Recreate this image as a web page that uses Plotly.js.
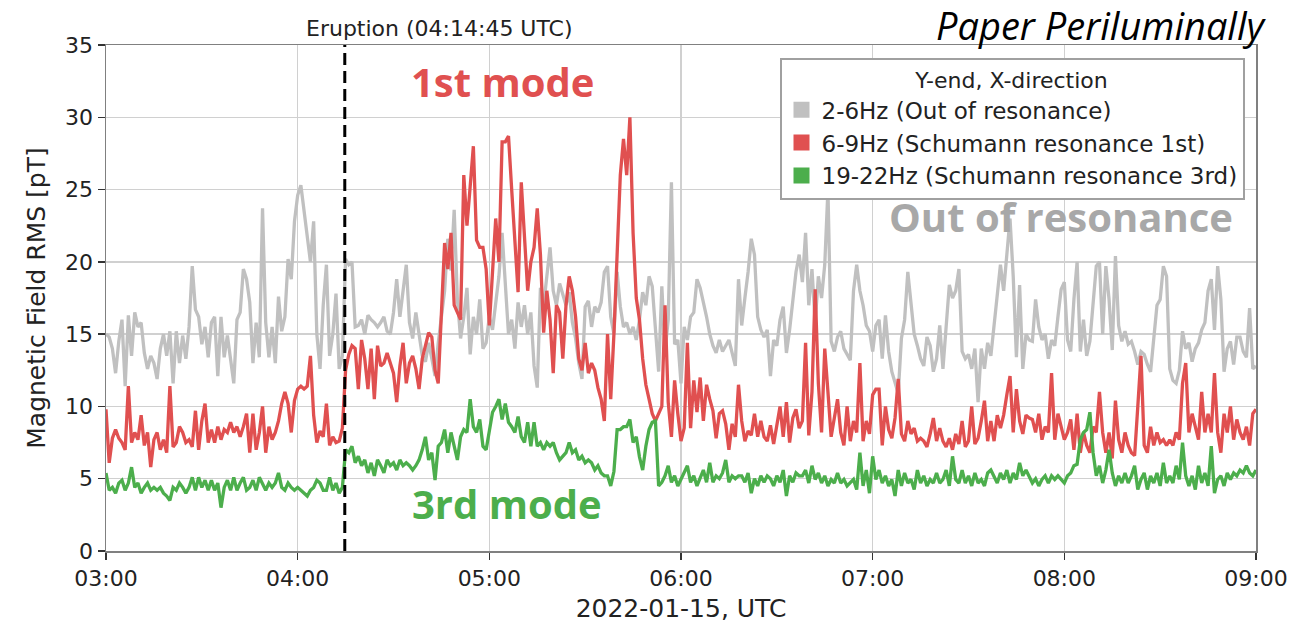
<!DOCTYPE html>
<html>
<head>
<meta charset="utf-8">
<script src="https://cdn.plot.ly/plotly-3.0.1.min.js"></script>
<style>html,body{margin:0;padding:0;background:#fff;}#chart{width:1296px;height:623px;}</style>
</head>
<body>
<div id="chart"></div>
<script>
// 1-minute RMS values, 03:00 to 09:00 UTC, 2022-01-15
const startTime = '2022-01-15 03:00';
const stepMinutes = 1;
const eruptionTime = '2022-01-15 04:14:45';

const band2to6 = [
15.0,14.8,14.0,12.3,14.5,16.0,11.4,16.3,13.5,16.5,
15.5,15.8,13.7,12.6,13.5,13.0,11.9,14.0,15.0,13.5,
15.2,11.6,15.2,13.0,14.9,13.3,15.5,19.7,16.7,16.2,
14.3,15.5,13.4,15.8,16.2,12.1,16.2,13.4,14.9,13.4,
11.6,16.0,16.5,19.5,18.8,17.2,13.0,15.8,13.4,23.7,
15.8,13.4,15.5,13.0,17.6,15.2,16.2,20.2,18.8,22.8,
24.6,25.3,23.5,21.8,20.0,22.8,15.0,12.6,17.0,19.8,
13.5,15.0,17.8,12.6,13.5,20.2,19.8,20.0,15.5,15.6,
16.0,15.0,16.3,16.0,15.8,15.5,15.8,16.2,15.2,15.0,
16.5,18.8,16.2,18.0,19.8,15.8,14.7,16.5,15.0,13.5,
13.1,14.4,13.3,12.1,14.4,16.2,18.0,21.6,19.4,23.6,
17.4,14.7,16.2,18.2,13.6,16.2,15.0,17.4,14.0,14.4,
16.2,15.3,17.4,19.0,22.0,18.0,15.0,16.0,14.0,17.2,
15.5,17.0,15.0,16.5,12.8,11.3,18.2,17.0,19.2,21.0,
18.0,17.0,18.5,17.8,17.0,17.9,15.8,14.7,13.0,11.9,
16.9,17.3,15.5,16.9,16.5,17.2,19.3,19.7,16.2,15.0,
19.3,16.9,15.5,15.8,15.0,15.5,14.6,16.0,17.9,17.0,
19.0,18.3,15.0,12.4,18.3,13.8,16.0,25.5,14.3,14.6,
11.6,15.5,14.6,16.2,16.5,18.8,18.2,17.3,16.2,15.0,
14.2,13.7,14.6,13.8,14.2,14.6,13.7,12.8,18.8,15.6,
17.5,19.3,21.6,20.5,16.2,15.3,14.8,15.3,12.1,14.6,
14.2,16.0,16.9,13.7,15.3,17.6,19.3,20.5,18.6,22.0,
17.0,19.5,15.8,19.0,17.5,19.8,25.0,14.5,13.8,14.8,
15.2,14.0,13.6,13.2,18.0,19.8,18.0,17.0,15.6,15.2,
13.8,15.6,16.0,13.3,16.3,13.8,12.4,11.6,10.9,14.7,
16.0,19.3,17.0,15.0,14.2,13.3,12.8,14.8,14.2,12.4,
13.3,15.6,12.6,15.2,18.4,17.5,18.0,19.5,13.8,13.3,
13.6,12.6,14.0,10.3,14.0,12.6,14.4,13.5,15.6,17.2,
19.8,18.0,20.3,23.0,19.0,13.4,18.4,12.6,15.0,14.6,
14.5,17.4,15.5,14.6,15.0,13.3,14.6,14.2,16.2,18.1,
18.6,14.6,13.8,17.4,20.0,13.8,16.0,13.5,14.5,17.2,
19.7,20.0,15.0,19.7,17.4,13.9,20.4,15.6,14.5,15.2,
14.3,14.5,13.8,12.9,13.8,13.6,12.9,12.4,14.8,17.0,
17.4,19.7,19.0,12.6,11.8,11.6,12.5,15.2,14.0,14.4,
13.1,14.0,14.4,15.3,15.8,18.0,18.8,15.3,19.7,17.4,
12.4,14.0,14.5,12.9,14.8,14.8,13.8,13.4,16.8,12.6,12.8
];

const band6to9 = [
9.8,6.1,7.8,8.4,7.8,7.5,7.0,11.4,7.5,8.2,
7.7,9.4,7.3,8.2,5.8,7.7,8.2,7.0,7.7,6.8,
11.4,7.2,7.5,8.6,8.2,7.5,7.7,7.2,9.7,7.0,
9.0,10.2,7.5,8.4,7.5,8.6,7.7,8.4,8.2,8.9,
8.2,8.6,7.9,8.6,9.5,6.8,9.5,7.0,8.2,10.0,
6.8,8.6,7.7,8.2,9.0,10.2,11.0,10.2,8.2,10.4,
11.2,11.4,11.2,11.4,13.5,9.4,7.5,8.3,7.9,10.2,
7.3,7.9,7.5,7.6,8.5,12.5,13.6,14.2,14.0,11.2,
14.6,13.3,11.2,14.0,10.5,14.2,12.8,13.0,13.7,13.0,
12.3,10.3,12.8,14.4,11.6,13.0,13.5,12.6,11.2,13.3,
14.2,15.1,14.8,12.5,11.6,16.3,21.3,19.5,22.0,17.0,
16.5,16.0,26.0,22.5,25.2,28.0,21.5,21.0,21.0,19.5,
15.6,19.0,23.0,20.0,28.3,28.3,28.7,25.0,21.3,17.9,
25.5,21.5,18.0,20.0,21.0,23.7,20.5,15.1,18.0,16.0,
12.3,17.0,16.5,13.3,17.0,19.0,18.0,16.2,13.3,12.5,
14.4,12.3,13.0,12.5,11.3,10.5,9.0,15.0,10.5,15.0,
20.0,26.0,28.5,26.0,30.0,22.0,17.5,16.0,13.3,11.5,
10.5,9.5,9.0,9.5,10.0,17.0,10.3,7.9,11.8,9.5,
7.6,8.5,14.4,8.5,11.8,9.6,12.0,9.0,11.5,10.5,
9.7,7.8,9.5,9.7,8.8,7.0,8.8,7.9,11.5,9.0,
7.6,8.3,8.0,9.5,7.9,9.0,7.9,7.6,8.7,7.4,
8.8,10.0,7.9,10.3,7.5,9.2,9.8,8.5,9.0,14.4,
8.0,11.0,18.1,11.6,8.2,14.0,11.0,7.9,9.2,10.5,
8.2,7.3,10.0,7.6,9.0,8.2,13.0,7.6,9.0,8.1,
10.8,11.2,11.2,7.3,10.0,8.4,7.8,9.2,11.9,8.1,
7.6,9.0,8.1,8.5,7.6,7.8,7.6,7.2,8.1,9.2,
7.6,8.5,7.6,7.2,7.8,7.0,8.1,7.4,9.0,7.2,
7.6,10.0,7.4,7.8,9.0,10.4,7.6,9.0,7.6,9.4,
8.5,9.4,10.8,12.1,8.2,11.2,9.0,8.1,9.4,9.2,
9.1,8.2,9.5,7.7,8.6,8.2,12.3,7.7,9.5,8.6,
7.7,8.2,9.1,7.0,9.5,6.8,8.2,7.3,6.8,8.6,
8.2,11.0,8.2,6.8,8.2,6.4,10.4,7.7,6.8,8.2,
7.3,6.8,6.6,10.0,13.5,7.3,6.8,8.6,7.3,8.2,
7.5,7.7,7.3,7.7,7.3,8.2,7.7,11.6,13.0,8.2,
9.5,8.6,7.7,11.0,8.2,9.5,8.2,12.3,8.2,6.8,
9.5,8.2,10.0,7.7,9.1,8.2,7.7,8.6,7.3,9.5,9.8
];

const band19to22 = [
5.4,4.2,4.4,4.0,4.7,4.9,4.2,4.7,5.8,4.4,
4.7,4.0,4.4,4.7,4.2,4.4,4.2,4.4,4.0,3.8,
3.5,4.4,4.2,4.7,4.4,4.0,4.4,5.1,4.2,5.1,
4.4,4.9,4.2,4.9,4.2,4.7,3.0,4.4,4.9,4.2,
5.1,4.2,4.7,5.1,4.2,4.4,4.9,4.2,5.1,4.7,
4.2,4.7,4.4,4.7,5.4,4.4,4.2,4.7,4.4,4.2,
4.4,4.2,4.0,3.8,4.2,4.4,4.9,4.7,4.2,4.2,
5.1,4.2,4.7,4.0,4.4,7.0,6.8,7.25,6.1,6.55,
5.9,6.3,5.4,6.1,5.2,6.3,5.9,5.4,6.3,5.9,
6.1,5.6,6.3,5.9,6.1,5.9,5.6,5.9,6.3,7.0,
7.9,6.3,6.8,4.9,7.25,7.5,8.4,6.8,8.2,7.25,
6.3,7.9,8.4,8.2,10.5,8.6,8.2,9.1,7.25,7.0,
8.2,9.6,10.0,10.5,9.1,10.2,8.9,8.6,8.2,9.3,
7.9,7.5,8.9,7.25,8.9,7.25,7.5,7.0,7.5,7.25,
7.5,6.8,6.3,6.55,6.8,7.5,6.8,7.0,6.3,6.55,
6.1,6.3,6.1,5.6,5.9,5.4,5.2,5.2,4.5,5.5,
8.4,8.4,8.6,8.6,9.1,7.5,7.9,6.5,5.6,7.25,
8.4,8.9,9.0,4.5,4.75,5.2,5.9,4.75,5.2,4.5,
5.0,5.4,5.9,4.75,5.2,4.5,5.0,5.6,4.75,6.1,
4.75,5.2,5.0,5.4,6.3,4.75,5.2,5.0,5.2,5.2,
4.75,5.4,4.0,5.0,4.5,5.2,4.75,5.2,5.0,4.5,
5.2,4.75,5.6,3.8,5.2,4.75,5.4,5.2,5.2,5.6,
4.7,5.9,4.95,5.4,4.7,5.2,4.5,4.95,4.7,5.4,
4.7,4.95,4.5,4.7,4.95,4.25,6.8,4.5,5.6,4.0,
6.55,4.95,5.6,4.7,5.2,4.5,4.95,3.8,5.6,4.5,
5.4,4.7,4.95,4.25,5.6,4.7,5.2,4.5,4.95,4.7,
5.4,4.7,4.95,5.6,4.5,6.55,4.95,4.7,5.6,4.7,
5.2,4.5,5.4,4.7,4.95,4.5,5.4,5.6,5.2,4.7,
5.4,4.95,5.6,4.7,5.4,4.95,6.1,5.2,5.6,5.2,
4.7,5.0,4.5,4.95,5.2,4.7,5.2,4.95,5.2,4.95,
4.7,5.2,5.4,5.9,6.0,7.7,8.2,8.4,9.6,6.8,
5.2,5.9,4.7,5.6,7.0,5.4,4.5,5.2,4.7,5.4,
4.7,5.2,5.9,4.25,4.95,5.4,4.25,5.2,4.7,5.4,
4.5,6.1,4.7,5.2,4.7,5.9,4.95,7.5,5.2,4.5,
5.2,4.25,5.9,4.7,5.4,4.5,7.25,4.0,4.95,5.2,
4.5,5.4,4.95,5.4,5.2,5.6,5.4,5.9,5.4,5.2,5.6
];

const seriesNames = ['2-6Hz (Out of resonance)', '6-9Hz (Schumann resonance 1st)', '19-22Hz (Schumann resonance 3rd)'];
const seriesColors = ['#c0c0c0', '#e05050', '#4cae4c'];
const xTickLabels = ['03:00','04:00','05:00','06:00','07:00','08:00','09:00'];
const yTicks = [0,5,10,15,20,25,30,35];

function pad(n){ return (n < 10 ? '0' : '') + n; }
const t0 = new Date(startTime.replace(' ', 'T') + ':00Z').getTime();
const times = band2to6.map((_, i) => {
  const d = new Date(t0 + i * stepMinutes * 60000);
  return d.getUTCFullYear() + '-' + pad(d.getUTCMonth()+1) + '-' + pad(d.getUTCDate()) + ' ' + pad(d.getUTCHours()) + ':' + pad(d.getUTCMinutes());
});
const tickVals = xTickLabels.map(l => '2022-01-15 ' + l);

const allSeries = [band2to6, band6to9, band19to22];
const traces = [];
allSeries.forEach((vals, k) => {
  traces.push({type:'scatter', mode:'lines', x: times, y: vals, name: seriesNames[k],
    line:{color: seriesColors[k], width: 3.3}, showlegend:false, hoverinfo:'skip'});
});
allSeries.forEach((vals, k) => {
  traces.push({type:'scatter', mode:'markers', x:[null], y:[null], name: seriesNames[k],
    marker:{symbol:'square', size:16, color: seriesColors[k]}, showlegend:true});
});

const font = 'DejaVu Sans, sans-serif';
const bold = 'Open Sans, sans-serif';
const layout = {
  width:1296, height:623,
  margin:{l:106, r:40, t:45, b:72},
  paper_bgcolor:'#fff', plot_bgcolor:'#fff',
  font:{family:font, color:'#222'},
  showlegend:true,
  xaxis:{type:'date', range:[tickVals[0], tickVals[tickVals.length-1]],
    tickvals: tickVals, ticktext: xTickLabels,
    tickfont:{size:22, family:font, color:'#222'},
    showgrid:true, gridcolor:'#d0d0d0', gridwidth:1.5,
    showline:true, linecolor:'#808080', linewidth:1.5, mirror:true,
    ticks:'outside', ticklen:7, tickwidth:1.5, tickcolor:'#333',
    zeroline:false,
    title:{text:'2022-01-15, UTC', font:{size:25, family:font, color:'#222'}, standoff:9}},
  yaxis:{range:[0,35], tickvals:yTicks,
    tickfont:{size:22, family:font, color:'#222'},
    showgrid:true, gridcolor:'#d0d0d0', gridwidth:1.5,
    showline:true, linecolor:'#808080', linewidth:1.5, mirror:true,
    ticks:'outside', ticklen:7, tickwidth:1.5, tickcolor:'#333',
    zeroline:false,
    title:{text:'Magnetic Field RMS [pT]', font:{size:25, family:font, color:'#222'}, standoff:12}},
  legend:{x:0.99, xanchor:'right', y:0.975, yanchor:'top',
    bgcolor:'#fff', bordercolor:'#a0a0a0', borderwidth:2,
    font:{size:23, family:font, color:'#222'},
    title:{text:'Y-end, X-direction', side:'top center', font:{size:22, family:font, color:'#222'}}},
  shapes:[{type:'line', xref:'x', yref:'paper', x0:eruptionTime, x1:eruptionTime, y0:0, y1:1,
    line:{color:'#000', width:3, dash:'12px,6px'}}],
  annotations:[
    {xref:'paper', yref:'paper', x:0.29, y:1.0, xanchor:'center', yanchor:'bottom', yshift:2, showarrow:false,
     text:'Eruption (04:14:45 UTC)', font:{size:22, family:font, color:'#222'}},
    {xref:'paper', yref:'paper', x:0.345, y:0.927, xanchor:'center', yanchor:'middle', showarrow:false,
     text:'<b>1st mode</b>', font:{size:40, family:bold, color:'#e05050'}},
    {xref:'paper', yref:'paper', x:0.349, y:0.093, xanchor:'center', yanchor:'middle', showarrow:false,
     text:'<b>3rd mode</b>', font:{size:40, family:bold, color:'#4cae4c'}},
    {xref:'paper', yref:'paper', x:0.83, y:0.662, xanchor:'center', yanchor:'middle', showarrow:false,
     text:'<b>Out of resonance</b>', font:{size:40, family:bold, color:'#a8a8a8'}},
    {xref:'paper', yref:'paper', x:0.866, y:1.0395, xanchor:'center', yanchor:'middle', showarrow:false,
     text:'<i>Paper Periluminally</i>', font:{size:38, family:bold, color:'#000'}}
  ]
};

Plotly.newPlot('chart', traces, layout, {displayModeBar:false, staticPlot:true});
</script>
</body>
</html>
